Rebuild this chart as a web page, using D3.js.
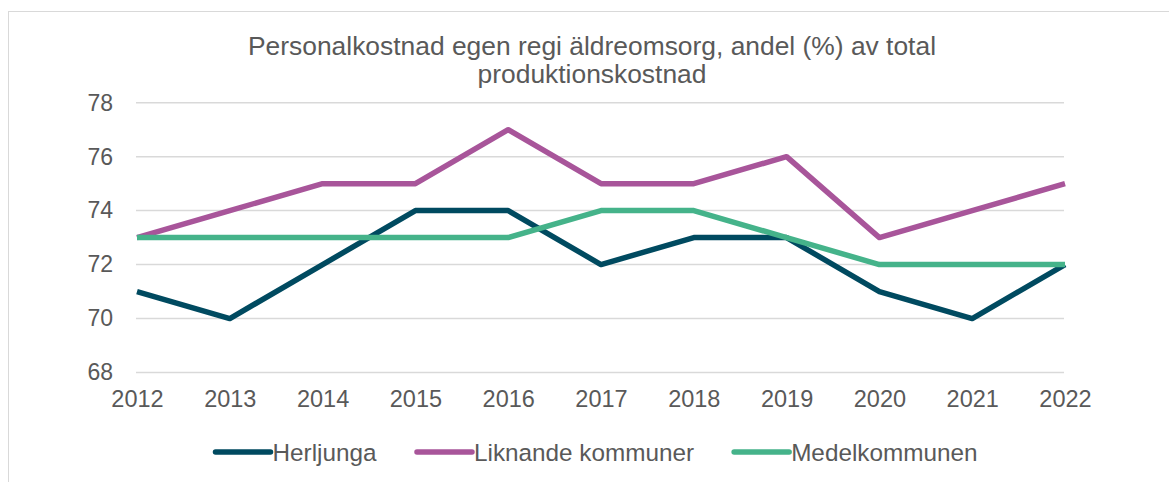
<!DOCTYPE html>
<html>
<head>
<meta charset="utf-8">
<script src="https://cdn.jsdelivr.net/npm/d3@7"></script>
<style>
  body { margin: 0; background: #fff; }
  text { font-family: "Liberation Sans", Arial, sans-serif; fill: #595959; }
</style>
</head>
<body>
<svg id="chart"></svg>
<script>
const years = ["2012", "2013", "2014", "2015", "2016", "2017", "2018", "2019", "2020", "2021", "2022"];
const herljunga = [71, 70, 72, 74, 74, 72, 73, 73, 71, 70, 72];
const liknande = [73, 74, 75, 75, 77, 75, 75, 76, 73, 74, 75];
const medel = [73, 73, 73, 73, 73, 74, 74, 73, 72, 72, 72];
const yTicks = [68, 70, 72, 74, 76, 78];
const titleLines = ["Personalkostnad egen regi äldreomsorg, andel (%) av total", "produktionskostnad"];

const series = [
  { name: "Herljunga", values: herljunga, color: "#004a60" },
  { name: "Liknande kommuner", values: liknande, color: "#a8559a" },
  { name: "Medelkommunen", values: medel, color: "#45b38a" }
];

const width = 1169, height = 482;
const svg = d3.select("#chart")
  .attr("width", width)
  .attr("height", height);

// outer frame
svg.append("rect")
  .attr("x", 8.5).attr("y", 11.5)
  .attr("width", 1200).attr("height", 500)
  .attr("fill", "none")
  .attr("stroke", "#d9d9d9");

const x = d3.scalePoint()
  .domain(years)
  .range([137, 1065]);

const y = d3.scaleLinear()
  .domain([68, 78])
  .range([372.5, 102.7]);

// title
svg.append("g").selectAll("text")
  .data(titleLines)
  .join("text")
  .attr("x", 592)
  .attr("y", (d, i) => 55 + i * 28)
  .attr("text-anchor", "middle")
  .style("font-size", "26.4px")
  .text(d => d);

// gridlines
svg.append("g").selectAll("line")
  .data(yTicks)
  .join("line")
  .attr("x1", 136).attr("x2", 1064)
  .attr("y1", d => y(d)).attr("y2", d => y(d))
  .attr("stroke", "#d9d9d9")
  .attr("stroke-width", 1.5);

// y axis labels
const yAxis = svg.append("g")
  .attr("transform", "translate(113,0)")
  .call(d3.axisLeft(y).tickValues(yTicks).tickSize(0).tickPadding(0));
yAxis.select(".domain").remove();
yAxis.selectAll("text").style("font-size", "23px").attr("fill", "#595959");

// x axis labels
const xAxis = svg.append("g")
  .attr("transform", "translate(0,390)")
  .call(d3.axisBottom(x).tickSize(0).tickPadding(0));
xAxis.select(".domain").remove();
xAxis.selectAll("text").style("font-size", "23.5px").attr("fill", "#595959");

// lines
const line = d3.line()
  .x((d, i) => x(years[i]))
  .y(d => y(d));

svg.append("g").selectAll("path")
  .data(series)
  .join("path")
  .attr("d", d => line(d.values))
  .attr("fill", "none")
  .attr("stroke", d => d.color)
  .attr("stroke-width", 5.5)
  .attr("stroke-linejoin", "round");

// legend
const legend = svg.append("g");
const items = legend.selectAll("g")
  .data(series)
  .join("g");
items.append("line")
  .attr("x1", 0).attr("x2", 55)
  .attr("y1", 0).attr("y2", 0)
  .attr("stroke", d => d.color)
  .attr("stroke-width", 5.5)
  .attr("stroke-linecap", "round");
items.append("text")
  .attr("x", 57)
  .attr("y", 8.5)
  .style("font-size", "24.3px")
  .text(d => d.name);

let offset = 0;
const widths = [];
items.each(function() {
  widths.push(this.getBBox().width);
});
const gap = 40;
const total = d3.sum(widths) + gap * (widths.length - 1);
let start = 596.5 - total / 2;
items.attr("transform", (d, i) => {
  const tx = start + offset;
  offset += widths[i] + gap;
  return `translate(${tx},452)`;
});
</script>
</body>
</html>
